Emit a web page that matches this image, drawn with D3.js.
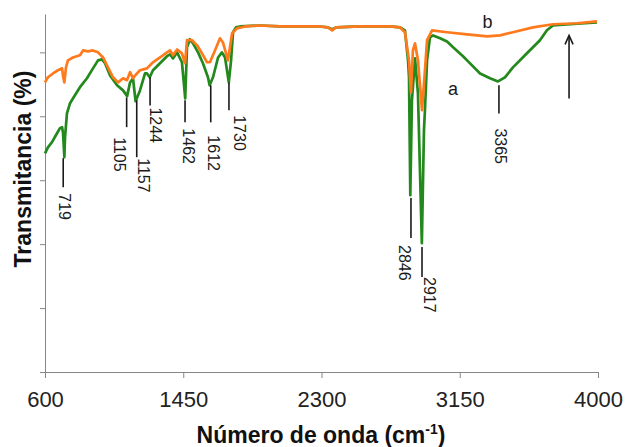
<!DOCTYPE html>
<html>
<head>
<meta charset="utf-8">
<script src="https://cdn.jsdelivr.net/npm/d3@7"></script>
<style>
  body { margin: 0; background: #fff; }
  svg { font-family: "Liberation Sans", Arial, sans-serif; }
</style>
</head>
<body>
<div id="chart"></div>
<script>
// wavenumber (cm-1) of each sampled point
const waveA = [600, 618, 643, 674, 692, 705, 711, 719, 723, 735, 754, 784, 815, 858, 895, 926, 950, 969,
  1000, 1043, 1080, 1105, 1123, 1141, 1157, 1184, 1215, 1227, 1244, 1264, 1307, 1350, 1369, 1387, 1412,
  1442, 1462, 1473, 1491, 1510, 1541, 1571, 1602, 1612, 1633, 1664, 1688, 1707, 1730, 1744, 1756, 1774,
  1799, 1922, 2045, 2168, 2291, 2340, 2365, 2389, 2537, 2721, 2783, 2813, 2832, 2838, 2846, 2856, 2875,
  2893, 2917, 2930, 2936, 2949, 2967, 2986, 3029, 3072, 3109, 3170, 3195, 3275, 3336, 3385, 3428, 3477,
  3563, 3643, 3686, 3723, 3828, 3920, 3994];
// transmittance, sample a (green)
const transA = [68.4, 70.3, 71.9, 74.7, 76.3, 76.6, 74.7, 67.2, 73.4, 80.9, 84.1, 86.6, 89.1, 91.9, 95.0, 97.5, 97.8, 96.6,
  92.8, 89.7, 88.1, 86.3, 90.6, 91.9, 84.7, 88.1, 93.4, 93.4, 92.2, 94.4, 96.6, 98.8, 99.4, 98.1, 100.0,
  96.9, 85.6, 101.6, 104.1, 102.8, 100.0, 96.6, 92.2, 89.7, 92.2, 98.4, 100.0, 98.4, 90.6, 97.5, 106.3, 107.8,
  108.1, 108.4, 108.1, 108.1, 108.1, 107.8, 107.2, 107.8, 108.1, 108.1, 107.8, 106.9, 97.5, 92.2, 55.3, 85.0, 98.1,
  87.2, 40.3, 75.6, 81.9, 97.5, 104.7, 105.3, 104.4, 103.4, 101.6, 98.8, 97.5, 93.4, 91.9, 90.9, 92.2, 95.3,
  99.7, 103.8, 106.9, 108.4, 108.8, 109.1, 109.4];

const waveB = [600, 618, 649, 680, 705, 711, 719, 729, 741, 772, 815, 834, 864, 895, 926, 957, 987,
  1018, 1049, 1080, 1104, 1123, 1141, 1160, 1184, 1227, 1264, 1307, 1350, 1369, 1387, 1412, 1442, 1461,
  1473, 1504, 1535, 1565, 1596, 1614, 1645, 1676, 1694, 1725, 1750, 1780, 1830, 1922, 2045, 2168, 2291,
  2340, 2365, 2389, 2537, 2721, 2783, 2813, 2838, 2850, 2862, 2875, 2893, 2918, 2936, 2949, 2980, 3072,
  3195, 3318, 3398, 3477, 3600, 3723, 3871, 3994];
// transmittance, sample b (orange)
const transB = [90.6, 92.2, 93.4, 94.4, 95.0, 92.5, 90.6, 95.3, 97.5, 98.4, 99.1, 100.6, 100.3, 100.6, 100.0, 98.4, 95.3,
  92.2, 90.6, 91.9, 91.3, 93.8, 91.9, 93.1, 94.4, 95.0, 96.9, 98.4, 100.0, 100.6, 99.1, 100.9, 99.7, 96.6,
  103.8, 103.8, 102.2, 99.7, 96.9, 96.9, 100.6, 104.4, 103.1, 97.5, 105.9, 107.5, 108.1, 108.4, 108.1, 108.1, 108.1,
  107.8, 106.9, 107.8, 108.1, 108.1, 107.8, 106.3, 97.5, 87.5, 100.6, 102.8, 97.5, 81.9, 94.4, 103.8, 106.9, 106.3,
  105.6, 105.0, 105.3, 106.3, 107.8, 108.8, 109.1, 109.7];

const xTicks = [600, 1450, 2300, 3150, 4000];
const yTicks = [0, 20, 40, 60, 80, 100];

// peak marks: label, where the mark stands, top and bottom of the mark (transmittance)
const peakLabels = ["719", "1105", "1157", "1244", "1462", "1612", "1730", "2846", "2917", "3365"];
const peakWave   = [712, 1102, 1164, 1246, 1461, 1619, 1731, 2850, 2918, 3391];
const peakTop    = [66.9, 85.9, 85.0, 92.2, 85.0, 89.7, 90.6, 54.4, 39.1, 89.7];
const peakBottom = [57.8, 76.6, 67.2, 83.4, 78.1, 78.1, 81.9, 41.9, 29.7, 80.9];
// label shift from the mark, in px
const labelDx = [2, -7, 7, 6, 4, 3, 11, -6, 8, 2];
const labelDy = [6, 10, 1, 2, 6, 13, 5, 7, 0, 15];

const seriesNames = ["a", "b"];
const namePos = [[3108, 86.6], [3320, 107.5]];
const arrowWave = 3822;
const arrowFrom = 85.6, arrowTo = 105.3;

const width = 627, height = 447;
const margin = {left: 45, right: 29, top: 14, bottom: 75};

const svg = d3.select("#chart").append("svg")
    .attr("width", width)
    .attr("height", height);

const x = d3.scaleLinear()
    .domain([600, 4000])
    .range([margin.left, width - margin.right]);
const y = d3.scaleLinear()
    .domain([0, 112])
    .range([height - margin.bottom, margin.top]);

// axes
const xAxis = svg.append("g")
    .attr("transform", `translate(0,${height - margin.bottom})`)
    .call(d3.axisBottom(x).tickValues(xTicks).tickSizeInner(6).tickSizeOuter(0).tickFormat(d3.format("d")));
xAxis.selectAll("path, line").attr("stroke", "#868686");
xAxis.selectAll("text")
    .attr("font-size", 22)
    .attr("fill", "#222")
    .attr("dy", "1.2em");

const yAxis = svg.append("g")
    .attr("transform", `translate(${margin.left},0)`)
    .call(d3.axisLeft(y).tickValues(yTicks).tickSizeInner(5).tickSizeOuter(0).tickFormat(""));
yAxis.selectAll("path, line").attr("stroke", "#868686");

// titles
const xTitle = svg.append("text")
    .attr("x", 321)
    .attr("y", 443)
    .attr("text-anchor", "middle")
    .attr("font-size", 23)
    .attr("font-weight", "bold")
    .attr("fill", "#111");
xTitle.append("tspan").text("Número de onda (cm");
xTitle.append("tspan").attr("font-size", 14).attr("dy", -9).text("-1");
xTitle.append("tspan").attr("dy", 9).text(")");

svg.append("text")
    .attr("transform", "translate(31,169) rotate(-90)")
    .attr("text-anchor", "middle")
    .attr("font-size", 23)
    .attr("font-weight", "bold")
    .attr("fill", "#111")
    .text("Transmitancia (%)");

// spectra
const line = d3.line()
    .x(d => x(d[0]))
    .y(d => y(d[1]));

svg.append("path")
    .datum(d3.zip(waveA, transA))
    .attr("fill", "none")
    .attr("stroke", "#23891d")
    .attr("stroke-width", 2.7)
    .attr("stroke-linejoin", "round")
    .attr("d", line);

svg.append("path")
    .datum(d3.zip(waveB, transB))
    .attr("fill", "none")
    .attr("stroke", "#ff7a1c")
    .attr("stroke-width", 2.7)
    .attr("stroke-linejoin", "round")
    .attr("d", line);

// peak marks
const peaks = peakLabels.map((p, i) => ({label: p, wn: peakWave[i], top: peakTop[i], bottom: peakBottom[i], dx: labelDx[i], dy: labelDy[i]}));

svg.selectAll("line.peak")
    .data(peaks)
    .enter()
    .append("line")
    .attr("class", "peak")
    .attr("x1", d => x(d.wn))
    .attr("x2", d => x(d.wn))
    .attr("y1", d => y(d.top))
    .attr("y2", d => y(d.bottom))
    .attr("stroke", "#1a1a1a")
    .attr("stroke-width", 1.6);

svg.selectAll("text.peak")
    .data(peaks)
    .enter()
    .append("text")
    .attr("class", "peak")
    .attr("transform", d => `translate(${x(d.wn) + d.dx - 6},${y(d.bottom) + d.dy}) rotate(90)`)
    .attr("font-size", 16)
    .attr("fill", "#1a1a1a")
    .text(d => d.label);

// series names
svg.selectAll("text.name")
    .data(seriesNames)
    .enter()
    .append("text")
    .attr("class", "name")
    .attr("x", (d, i) => x(namePos[i][0]))
    .attr("y", (d, i) => y(namePos[i][1]))
    .attr("text-anchor", "middle")
    .attr("font-size", 18)
    .attr("fill", "#1a1a1a")
    .text(d => d);

// arrow
const ax = x(arrowWave);
svg.append("line")
    .attr("x1", ax).attr("x2", ax)
    .attr("y1", y(arrowFrom)).attr("y2", y(arrowTo) + 1)
    .attr("stroke", "#1a1a1a")
    .attr("stroke-width", 1.6);
svg.append("path")
    .attr("d", `M${ax - 4},${y(arrowTo) + 9} L${ax},${y(arrowTo)} L${ax + 4},${y(arrowTo) + 9}`)
    .attr("fill", "none")
    .attr("stroke", "#1a1a1a")
    .attr("stroke-width", 1.6);
</script>
</body>
</html>
